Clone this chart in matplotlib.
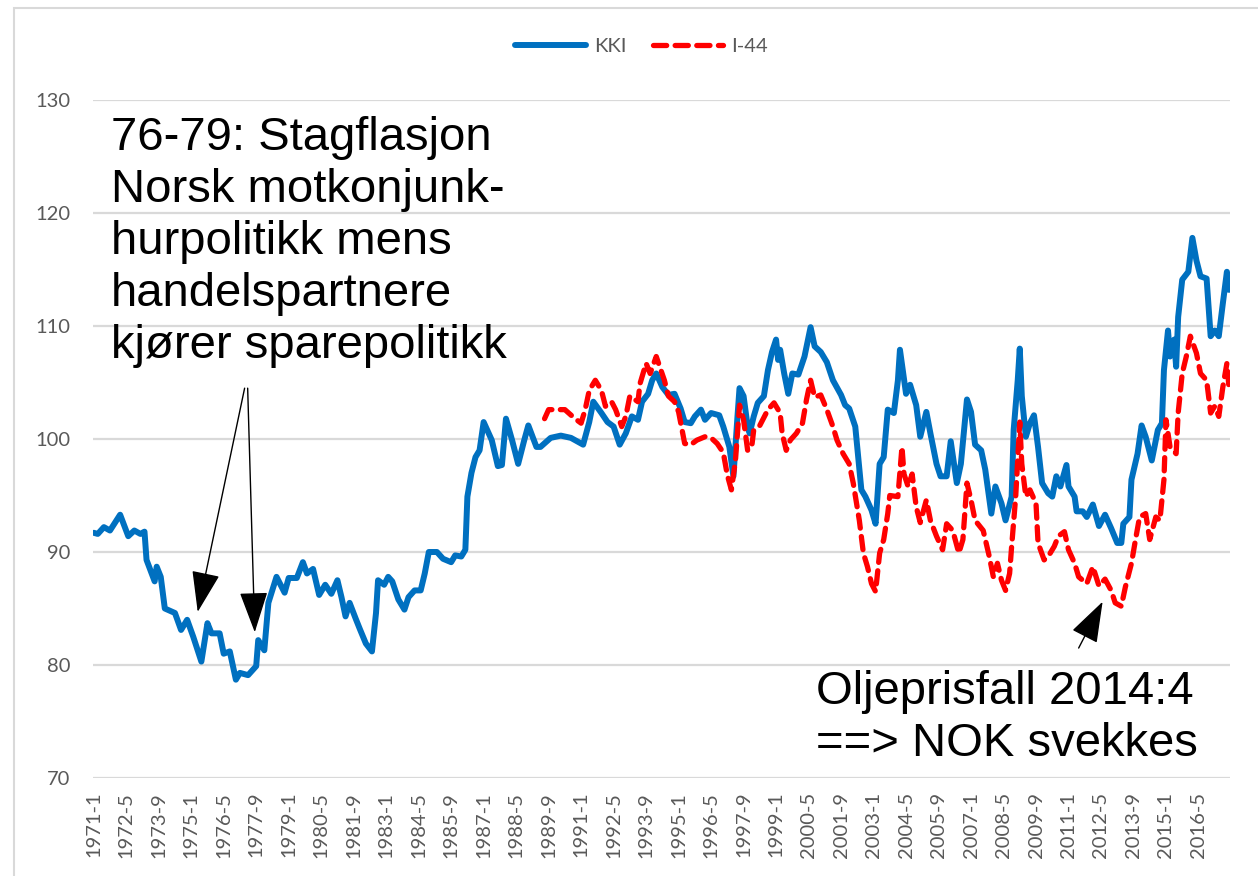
import matplotlib
matplotlib.use("Agg")
import matplotlib.pyplot as plt
from matplotlib.patches import Rectangle

# months since 1971-1 and index values
kki_month = [0, 2, 5, 8, 13, 17, 20, 23, 25, 26, 30, 31, 33, 35, 40, 43, 46, 49, 53, 56,
             58, 62, 64, 67, 70, 72, 76, 80, 81, 84, 86, 90, 94, 96, 100, 103, 105, 108, 111, 114,
             117, 120, 122, 124, 126, 129, 131, 134, 137, 139, 140, 143, 145, 147, 150, 153, 155, 158, 161, 163,
             165, 169, 172, 176, 178, 181, 183, 184, 186, 188, 190, 192, 196, 199, 201, 203, 206, 209, 212, 214,
             218, 220, 225, 230, 235, 241, 244, 246, 250, 253, 256, 259, 262, 265, 268, 270, 273, 275, 277, 280,
             283, 286, 289, 291, 294, 296, 299, 301, 304, 308, 310, 313, 315, 317, 318, 320, 322, 323, 325, 327,
             330, 332, 334, 336, 337, 338, 340, 342, 344, 347, 350, 353, 355, 358, 361, 364, 368, 370, 372, 375,
             378, 380, 383, 385, 387, 389, 391, 394, 396, 397, 400, 402, 405, 407, 410, 412, 415, 417, 420, 422,
             425, 427, 430, 432, 434, 437, 439, 442, 444, 447, 449, 452, 453, 455, 456, 457, 459, 461, 463, 465,
             467, 470, 472, 474, 476, 479, 480, 483, 484, 487, 489, 492, 495, 498, 501, 504, 506, 507, 510, 511,
             514, 516, 518, 521, 524, 526, 527, 529, 530, 532, 533, 534, 536, 539, 541, 543, 545, 548, 550, 552,
             554, 556, 558, 559]
kki_value = [91.7, 91.6, 92.2, 91.9, 93.3, 91.4, 91.9, 91.6, 91.8, 89.3, 87.4, 88.7, 87.8, 85.0, 84.6, 83.1, 84.0, 82.5, 80.3, 83.7,
             82.8, 82.8, 81.0, 81.2, 78.7, 79.3, 79.1, 79.9, 82.2, 81.3, 85.5, 87.8, 86.4, 87.7, 87.7, 89.1, 88.1, 88.5, 86.2, 87.1,
             86.3, 87.5, 86.0, 84.3, 85.5, 84.1, 83.2, 81.9, 81.2, 84.6, 87.5, 87.1, 87.8, 87.4, 85.8, 84.9, 86.0, 86.6, 86.6, 88.1,
             90.0, 90.0, 89.4, 89.1, 89.7, 89.6, 90.2, 94.9, 97.0, 98.4, 99.0, 101.5, 99.9, 97.6, 97.7, 101.8, 99.9, 97.8, 99.9, 101.2,
             99.3, 99.3, 100.1, 100.3, 100.1, 99.5, 101.5, 103.3, 102.3, 101.5, 101.1, 99.5, 100.5, 102.0, 101.7, 103.3, 104.0, 105.2, 105.8, 104.6,
             103.9, 104.0, 102.7, 101.5, 101.4, 102.0, 102.6, 101.7, 102.3, 102.1, 101.1, 99.3, 96.7, 102.0, 104.5, 103.8, 101.1, 100.5, 102.0, 103.2,
             103.8, 106.1, 107.7, 108.8, 107.0, 107.9, 105.8, 104.0, 105.8, 105.7, 107.3, 109.9, 108.2, 107.7, 106.8, 105.2, 103.9, 103.0, 102.7, 101.1,
             95.5, 94.9, 93.7, 92.5, 97.8, 98.4, 102.6, 102.3, 105.2, 107.9, 104.0, 104.8, 103.0, 100.2, 102.4, 100.5, 97.8, 96.7, 96.7, 99.8,
             96.1, 97.8, 103.5, 102.4, 99.5, 99.0, 97.3, 93.4, 95.8, 94.3, 92.8, 94.9, 100.8, 105.2, 108.0, 103.8, 100.2, 101.4, 102.1, 99.3,
             96.1, 95.2, 94.9, 96.7, 95.8, 97.7, 95.8, 94.9, 93.6, 93.6, 93.1, 94.2, 92.3, 93.3, 92.1, 90.8, 90.8, 92.5, 93.1, 96.4,
             98.7, 101.2, 100.2, 98.1, 100.8, 101.4, 106.1, 109.6, 107.3, 108.8, 106.4, 110.8, 114.1, 114.8, 117.8, 115.8, 114.4, 114.2, 109.1, 109.6,
             109.1, 112.0, 114.8, 113.2]

i44_month = [222, 224, 228, 232, 237, 240, 242, 244, 247, 250, 252, 255, 257, 260, 262, 264, 268, 269, 272, 274,
             277, 281, 283, 286, 288, 291, 294, 297, 301, 304, 307, 310, 312, 314, 316, 318, 320, 322, 324, 325,
             328, 332, 335, 338, 339, 341, 343, 346, 349, 351, 353, 355, 358, 361, 364, 366, 369, 372, 374, 377,
             379, 381, 383, 385, 387, 389, 391, 392, 396, 398, 399, 401, 403, 405, 407, 410, 412, 415, 418, 420,
             423, 426, 428, 430, 432, 434, 438, 441, 443, 445, 447, 449, 451, 452, 454, 456, 457, 459, 461, 464,
             465, 468, 470, 473, 475, 478, 480, 483, 485, 489, 492, 495, 498, 501, 503, 506, 508, 511, 513, 515,
             518, 520, 523, 525, 527, 528, 530, 533, 534, 536, 538, 540, 543, 545, 548, 550, 552, 554, 556, 558,
             559]
i44_value = [101.8, 102.6, 102.6, 102.6, 101.8, 101.4, 102.6, 104.3, 105.2, 104.3, 102.9, 103.3, 102.6, 101.1, 102.0, 103.8, 103.3, 104.9, 106.7, 105.8,
             107.3, 105.2, 103.8, 103.3, 102.4, 99.6, 99.5, 99.9, 100.2, 100.1, 99.6, 98.8, 96.8, 95.5, 98.1, 103.0, 101.7, 99.0, 99.3, 100.8,
             101.2, 102.6, 103.2, 102.3, 100.5, 99.0, 99.9, 100.5, 101.4, 103.5, 105.2, 103.7, 103.9, 102.6, 101.1, 99.9, 98.7, 97.8, 96.1, 92.8,
             89.9, 88.7, 87.2, 86.5, 89.9, 91.1, 93.4, 95.0, 94.9, 99.3, 96.9, 95.8, 96.9, 94.0, 92.6, 94.6, 92.8, 91.4, 90.2, 92.5,
             91.9, 89.9, 91.1, 96.1, 94.6, 92.8, 91.9, 89.6, 87.8, 89.0, 87.5, 86.6, 88.1, 90.5, 94.9, 101.5, 97.8, 94.9, 95.5, 94.3,
             90.8, 89.3, 89.6, 90.5, 91.4, 91.8, 90.2, 89.0, 87.8, 87.2, 88.7, 87.0, 87.6, 86.6, 85.5, 85.2, 86.9, 89.0, 91.1, 93.1,
             93.4, 91.1, 93.1, 92.8, 96.4, 101.7, 99.3, 98.7, 102.3, 105.8, 107.3, 109.1, 107.6, 105.8, 105.2, 102.3, 102.9, 102.0, 104.6, 106.7,
             104.6]

tick_month = [0, 16, 32, 48, 64, 80, 96, 112, 128, 144, 160, 176, 192, 208, 224, 240, 256, 272,
              288, 304, 320, 336, 352, 368, 384, 400, 416, 432, 448, 464, 480, 496, 512, 528, 544]
tick_label = ["1971-1", "1972-5", "1973-9", "1975-1", "1976-5", "1977-9", "1979-1", "1980-5", "1981-9",
              "1983-1", "1984-5", "1985-9", "1987-1", "1988-5", "1989-9", "1991-1", "1992-5", "1993-9",
              "1995-1", "1996-5", "1997-9", "1999-1", "2000-5", "2001-9", "2003-1", "2004-5", "2005-9",
              "2007-1", "2008-5", "2009-9", "2011-1", "2012-5", "2013-9", "2015-1", "2016-5"]

GREY = "#595959"

fig = plt.figure(figsize=(12.58, 8.76), dpi=100)
ax = fig.add_axes([0.0737, 0.1119, 0.904, 0.7739])

ax.plot(kki_month, kki_value, color="#0070C0", lw=4.3, solid_joinstyle="round",
        solid_capstyle="round", label="KKI", zorder=3)
ax.plot(i44_month, i44_value, color="#FF0000", lw=3.8, dashes=(2.5, 1.6),
        dash_capstyle="round", label="I-44", zorder=4)

ax.set_xlim(-0.5, 559.5)
ax.set_ylim(70, 130)
ax.set_yticks([70, 80, 90, 100, 110, 120, 130])
ax.set_xticks(tick_month)
ax.set_xticklabels(tick_label, rotation=90)
ax.grid(axis="y", color="#d9d9d9", lw=1.6)
ax.set_axisbelow(True)
for s in ax.spines.values():
    s.set_visible(False)
ax.tick_params(axis="both", length=0, colors=GREY, labelsize=14.5)
ax.tick_params(axis="y", pad=16)
ax.tick_params(axis="x", pad=10)
for lab in ax.get_xticklabels() + ax.get_yticklabels():
    lab.set_family("Lato")

leg = fig.legend(loc="center", bbox_to_anchor=(0.51, 0.947), ncol=2, frameon=False,
                 handlelength=3.5, handletextpad=0.4, columnspacing=1.3,
                 prop={"family": "Lato", "size": 14.5})
for t in leg.get_texts():
    t.set_color(GREY)

# annotations
big = {"family": "Liberation Sans", "size": 34, "color": "black"}
ax.text(8.5, 128.6, "76-79: Stagflasjon\nNorsk motkonjunk-\nhurpolitikk mens\nhandelspartnere\nkjører sparepolitikk",
        va="top", ha="left", linespacing=1.24, **big)
ax.text(355.5, 79.6, "Oljeprisfall 2014:4\n==> NOK svekkes", va="top", ha="left",
        linespacing=1.24, **big)

arrow = dict(arrowstyle="-|>,head_length=1.3,head_width=0.45", color="black",
             lw=1.0, mutation_scale=20, shrinkA=0, shrinkB=0)
ax.annotate("", xy=(51.2, 84.7), xytext=(74.3, 104.5), arrowprops=arrow)
ax.annotate("", xy=(79.3, 82.9), xytext=(75.8, 104.5), arrowprops=arrow)
ax.annotate("", xy=(496.8, 85.6), xytext=(485.0, 81.5), arrowprops=arrow)

# outer chart border
fig.patches.append(Rectangle((14 / 1258, -0.02), 1.1, 1 - 8 / 876 + 0.02,
                             transform=fig.transFigure, fill=False,
                             edgecolor="#d9d9d9", lw=1.5))

fig.savefig("out.png", dpi=100)
